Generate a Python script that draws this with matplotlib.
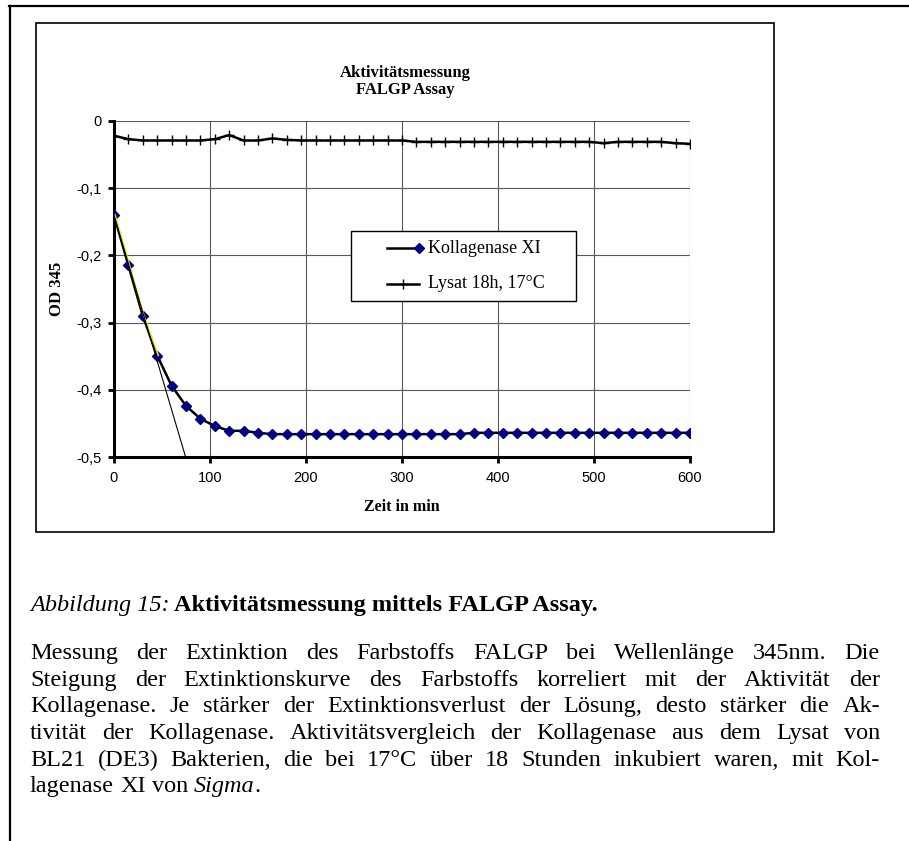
"""
Aktivitaetsmessung FALGP Assay - Abbildung 15 nachgebaut
"""

import matplotlib
matplotlib.use('Agg')
import matplotlib.pyplot as plt
from matplotlib.patches import Rectangle
from matplotlib.lines import Line2D
import matplotlib.transforms as mtransforms


# Messzeitpunkte in min
zeit = [0, 15, 30, 45, 60, 75, 90, 105, 120, 135, 150, 165, 180, 195, 210,
        225, 240, 255, 270, 285, 300, 315, 330, 345, 360, 375, 390, 405, 420,
        435, 450, 465, 480, 495, 510, 525, 540, 555, 570, 585, 600]

# OD 345 Kollagenase XI
kollagenase = [-0.140, -0.215, -0.290, -0.349, -0.394, -0.424, -0.443, -0.454,
               -0.461, -0.461, -0.464, -0.466, -0.466, -0.466, -0.466, -0.466,
               -0.466, -0.466, -0.466, -0.466, -0.466, -0.466, -0.466, -0.466,
               -0.466, -0.464, -0.464, -0.464, -0.464, -0.464, -0.464, -0.464,
               -0.464, -0.464, -0.464, -0.464, -0.464, -0.464, -0.464, -0.464,
               -0.464]

# OD 345 Lysat 18h, 17 Grad
lysat = [-0.022, -0.027, -0.029, -0.029, -0.029, -0.029, -0.029, -0.027,
         -0.021, -0.029, -0.029, -0.026, -0.028, -0.029, -0.029, -0.029,
         -0.029, -0.029, -0.029, -0.029, -0.029, -0.031, -0.031, -0.031,
         -0.031, -0.031, -0.031, -0.031, -0.031, -0.031, -0.031, -0.031,
         -0.031, -0.031, -0.033, -0.031, -0.031, -0.031, -0.031, -0.033,
         -0.034]

# Anfangssteigung (Tangente)
tangente_zeit = [0, 75]
tangente_od = [-0.140, -0.502]

x_ticks = [0, 100, 200, 300, 400, 500, 600]
y_ticks = [-0.5, -0.4, -0.3, -0.2, -0.1, 0]
y_ticklabels = ['-0,5', '-0,4', '-0,3', '-0,2', '-0,1', '0']

serif = 'Liberation Serif'
sans = 'Liberation Sans'

W, H = 909, 841
fig = plt.figure(figsize=(W / 100, H / 100), dpi=100)

# Rahmen der Seite und des Diagramms
fig.add_artist(Line2D([9 / W, 1], [1 - 6 / H, 1 - 6 / H], color='black', lw=1.6))
fig.add_artist(Line2D([10 / W, 10 / W], [0, 1 - 6 / H], color='black', lw=1.6))
fig.add_artist(Rectangle((36 / W, 1 - 532 / H), 738 / W, 509 / H, fill=False,
                         edgecolor='black', lw=1.2))

ax = fig.add_axes([114 / W, 1 - 457 / H, 576 / W, 336 / H])

ax.grid(True, color='0.35', lw=0.8)
ax.set_axisbelow(True)

ax.plot(zeit, lysat, color='black', lw=1.8, marker='+', ms=7, mew=1.0,
        zorder=3)
ax.plot(zeit, kollagenase, color='black', lw=1.8, marker='D', ms=5,
        mfc='#000080', mec='#000080', zorder=4)
gelb = mtransforms.offset_copy(ax.transData, fig=fig, x=1.2, y=0, units='dots')
ax.plot(zeit[:4], kollagenase[:4], color='#e8e800', lw=1.1, transform=gelb,
        zorder=5)
ax.plot(tangente_zeit, tangente_od, color='black', lw=0.8, zorder=5)

ax.set_xlim(0, 600)
ax.set_ylim(-0.5, 0)
ax.set_xticks(x_ticks)
ax.set_yticks(y_ticks)
ax.set_yticklabels(y_ticklabels)
for lab in ax.get_xticklabels() + ax.get_yticklabels():
    lab.set_fontfamily(sans)
    lab.set_fontsize(10.5)

for s in ['top', 'right']:
    ax.spines[s].set_visible(False)
for s in ['left', 'bottom']:
    ax.spines[s].set_linewidth(2.2)
ax.tick_params(axis='both', direction='out', length=4, width=2)
ax.tick_params(axis='x', pad=6)
ax.tick_params(axis='y', pad=5)

ax.set_xlabel('Zeit in min', fontfamily=serif, fontweight='bold', fontsize=11.5)
ax.xaxis.set_label_coords(0.5, 1 - (507 - 121) / 336)
ax.xaxis.label.set_va('center')
ax.set_ylabel('OD 345', fontfamily=serif, fontweight='bold', fontsize=12)
ax.yaxis.set_label_coords((57 - 114) / 576, 0.5)
ax.yaxis.label.set_va('center')

fig.text(405 / W, 1 - 73 / H, 'Aktivitätsmessung', ha='center', va='center',
         fontfamily=serif, fontweight='bold', fontsize=12)
fig.text(405 / W, 1 - 90 / H, 'FALGP Assay', ha='center', va='center',
         fontfamily=serif, fontweight='bold', fontsize=12)

# Legende
ax.add_patch(Rectangle((0.411, 0.4643), 0.391, 0.2083, transform=ax.transAxes,
                       facecolor='white', edgecolor='black', lw=1.0, zorder=6))
ax.add_line(Line2D([0.474, 0.530], [0.622, 0.622], transform=ax.transAxes,
                   color='black', lw=1.8, marker='D', ms=5, mfc='#000080',
                   mec='#000080', markevery=[1], zorder=7))
ax.add_line(Line2D([0.474, 0.502, 0.530], [0.515, 0.515, 0.515],
                   transform=ax.transAxes, color='black', lw=1.8, marker='+',
                   ms=7, mew=1.0, markevery=[1], zorder=7))
ax.text(0.545, 0.622, 'Kollagenase XI', transform=ax.transAxes, va='center',
        fontfamily=serif, fontsize=13, zorder=7)
ax.text(0.545, 0.515, 'Lysat 18h, 17°C', transform=ax.transAxes, va='center',
        fontfamily=serif, fontsize=13, zorder=7)

# Bildunterschrift
renderer = fig.canvas.get_renderer()


def breite(s, **kw):
    t = fig.text(0, 0, s, **kw)
    w = t.get_window_extent(renderer).width
    t.remove()
    return w


def zeile(woerter, y_px, x0, x1, blocksatz, size, weight='normal'):
    # woerter: Liste von Woertern, jedes Wort eine Liste aus (text, stil)
    kw = dict(fontfamily=serif, fontsize=size, fontweight=weight)
    breiten = [sum(breite(t, fontstyle=st, **kw) for t, st in w) for w in woerter]
    leer = breite('a a', **kw) - breite('aa', **kw)
    if blocksatz and len(woerter) > 1:
        leer = (x1 - x0 - sum(breiten)) / (len(woerter) - 1)
    x = x0
    for w in woerter:
        for t, st in w:
            fig.text(x / W, 1 - y_px / H, t, va='baseline', fontstyle=st, **kw)
            x += breite(t, fontstyle=st, **kw)
        x += leer


text_size = 17.5
kopf_y = 611
kopf_kw = dict(fontfamily=serif, fontsize=text_size, va='baseline')
fig.text(30 / W, 1 - kopf_y / H, 'Abbildung 15:', fontstyle='italic', **kopf_kw)
x_kopf = 30 + breite('Abbildung 15:', fontstyle='italic', fontfamily=serif,
                     fontsize=text_size) + 4
fig.text(x_kopf / W, 1 - kopf_y / H, 'Aktivitätsmessung mittels FALGP Assay.',
         fontweight='bold', **kopf_kw)

absatz = [
    'Messung der Extinktion des Farbstoffs FALGP bei Wellenlänge 345nm. Die',
    'Steigung der Extinktionskurve des Farbstoffs korreliert mit der Aktivität der',
    'Kollagenase. Je stärker der Extinktionsverlust der Lösung, desto stärker die Ak-',
    'tivität der Kollagenase. Aktivitätsvergleich der Kollagenase aus dem Lysat von',
    'BL21 (DE3) Bakterien, die bei 17°C über 18 Stunden inkubiert waren, mit Kol-',
]
zeilen_y = [659, 685.7, 712.3, 739, 765.7, 792.3]

for text, y in zip(absatz, zeilen_y):
    zeile([[(w, 'normal')] for w in text.split()], y, 30, 880, True, text_size)
zeile([[('lagenase', 'normal')], [('XI', 'normal')], [('von', 'normal')],
       [('Sigma', 'italic'), ('.', 'normal')]], zeilen_y[5], 30, 880, False,
      text_size)

fig.savefig('out.png', dpi=100)
